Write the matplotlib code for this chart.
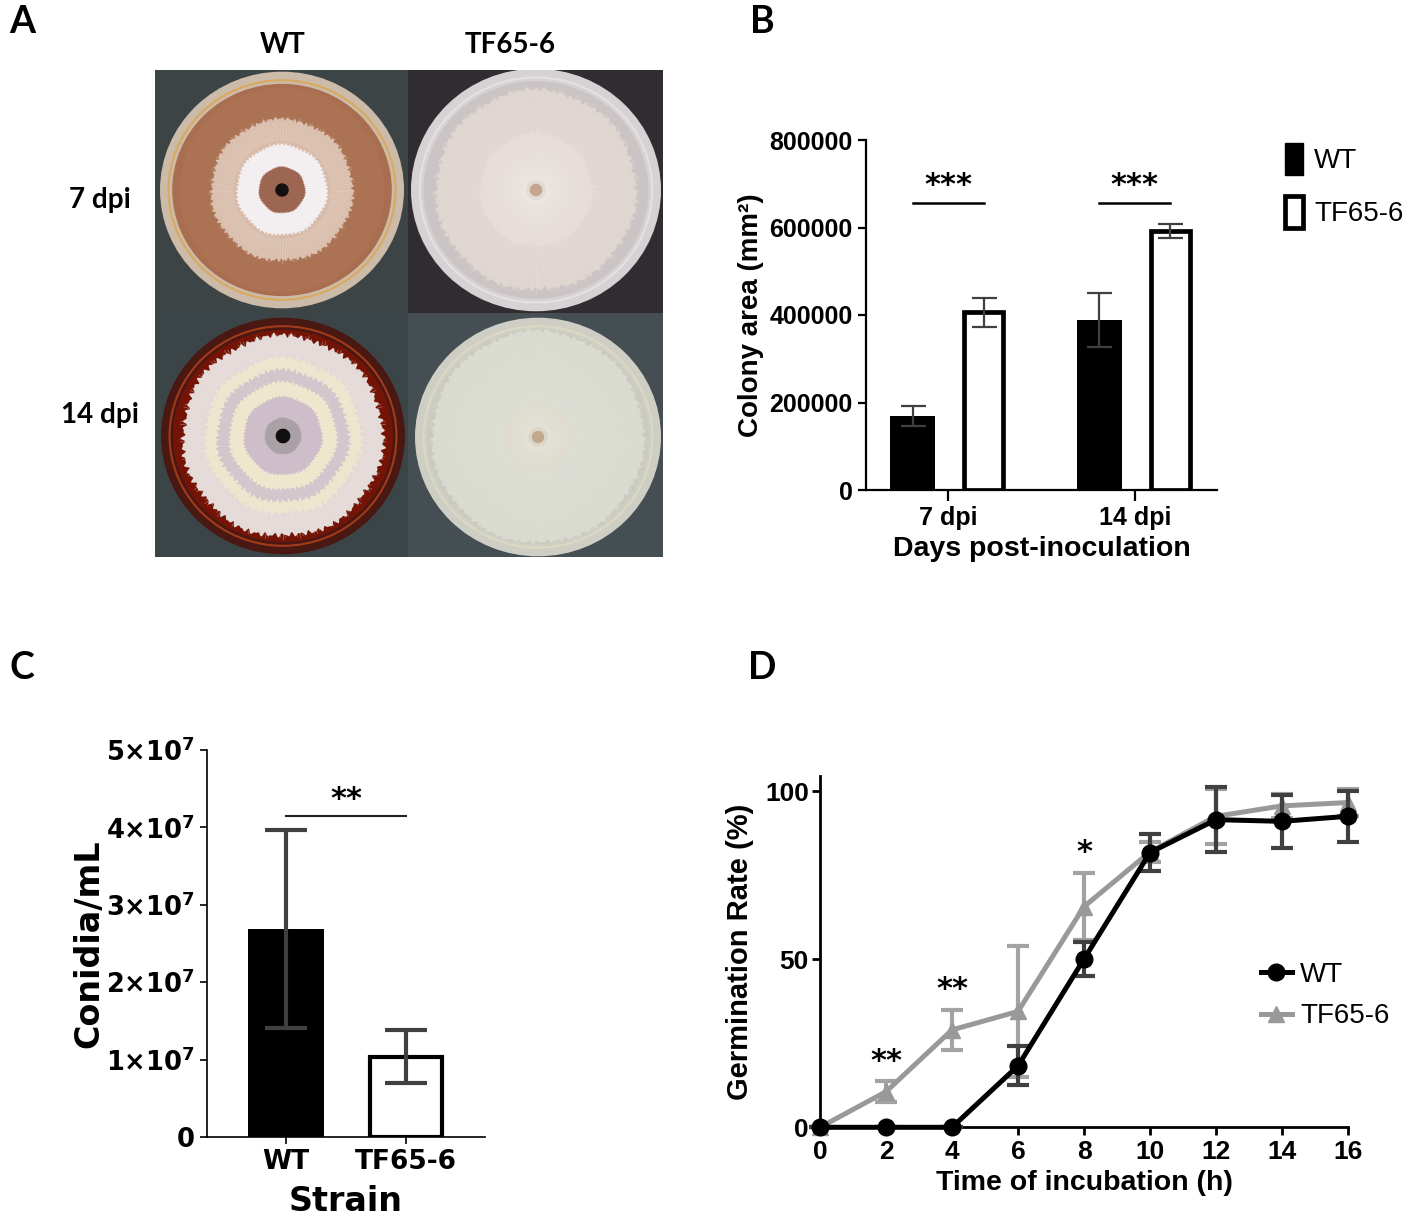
import numpy as np
import matplotlib
matplotlib.use('Agg')
import matplotlib.pyplot as plt
from matplotlib.patches import Ellipse, Rectangle, Polygon
from matplotlib.lines import Line2D
from matplotlib.collections import LineCollection

plt.rcParams['font.family'] = ['Liberation Sans', 'DejaVu Sans']
plt.rcParams['mathtext.fontset'] = 'dejavusans'

W, H = 1418, 1223

# --- panel A: plate photos (drawn as sketches) ---
plate_cols = ['WT', 'TF65-6']
plate_rows = ['7 dpi', '14 dpi']

# --- panel B: colony area ---
days = ['7 dpi', '14 dpi']
area_wt = [170000, 389000]
area_wt_err = [23000, 62000]
area_tf = [406000, 593000]
area_tf_err = [34000, 16000]
area_sig = ['***', '***']
area_ticks = [0, 200000, 400000, 600000, 800000]

# --- panel C: conidia ---
strains = ['WT', 'TF65-6']
conidia = [2.69e7, 1.04e7]
conidia_err = [1.28e7, 0.34e7]
conidia_sig = '**'
conidia_ticks = [0, 1e7, 2e7, 3e7, 4e7, 5e7]
conidia_ticklabels = ['0'] + [r'$\mathbf{%d{\times}10^{7}}$' % i for i in range(1, 6)]

# --- panel D: germination ---
hours = [0, 2, 4, 6, 8, 10, 12, 14, 16]
germ_wt = [0, 0, 0, 18.3, 50.1, 81.8, 91.6, 91.1, 92.6]
germ_wt_err = [0, 0, 0, 5.8, 5.0, 5.4, 9.7, 7.8, 7.6]
germ_tf = [0, 10.6, 29.0, 34.5, 65.7, 82.0, 92.6, 95.7, 96.7]
germ_tf_err = [0, 3.1, 5.9, 19.5, 10.0, 3.0, 8.2, 3.5, 4.0]
germ_sig_idx = [1, 2, 4]
germ_sig = ['**', '**', '*']

STAR_FONT = 'DejaVu Sans'


def fig_rect(x0, y0, x1, y1):
    # pixel box (top-left origin) -> figure fraction
    return [x0 / W, 1 - y1 / H, (x1 - x0) / W, (y1 - y0) / H]


def blob(ax, cx, cy, r, color, wob=0.012):
    t = np.linspace(0, 2 * np.pi, 900)
    rr = r * (1 + wob * np.sin(71 * t) + 0.7 * wob * np.sin(113 * t + 1.0)
              + 0.8 * wob * np.sin(7 * t + 0.4))
    ax.add_patch(Polygon(np.c_[cx + rr * np.cos(t), cy + rr * np.sin(t)],
                         closed=True, fc=color, ec='none'))


def hairs(ax, cx, cy, r0, r1, color, n=220, alpha=0.35):
    # fine radial streaks to suggest mycelium
    t = np.linspace(0, 2 * np.pi, n, endpoint=False)
    ends = r1 * (1 + 0.04 * np.sin(37 * t))
    segs = [[(cx + r0 * np.cos(a), cy + r0 * np.sin(a)),
             (cx + e * np.cos(a), cy + e * np.sin(a))] for a, e in zip(t, ends)]
    ax.add_collection(LineCollection(segs, colors=color, linewidths=0.6, alpha=alpha))


def draw_dish(ax, cx, cy, R, rim, edge_line, agar, rings):
    ax.add_patch(Ellipse((cx, cy), 2 * R, 2 * R * 0.97, fc=rim, ec='none'))
    ax.add_patch(Ellipse((cx, cy), 2 * R * 0.93, 2 * R * 0.9, fc='none', ec=edge_line, lw=1.5))
    ax.add_patch(Ellipse((cx, cy), 2 * R * 0.9, 2 * R * 0.87, fc=agar, ec='none'))
    for frac, color, wob in rings:
        blob(ax, cx, cy, R * frac, color, wob)


fig = plt.figure(figsize=(W / 100, H / 100), dpi=100)

# ---------------- A ----------------
axA = fig.add_axes(fig_rect(155, 70, 663, 557))
axA.set_xlim(0, 508)
axA.set_ylim(487, 0)
axA.axis('off')
axA.add_patch(Rectangle((0, 0), 253, 243, fc='#3c4446', ec='none'))
axA.add_patch(Rectangle((253, 0), 255, 243, fc='#312c32', ec='none'))
axA.add_patch(Rectangle((0, 243), 253, 244, fc='#3b4548', ec='none'))
axA.add_patch(Rectangle((253, 243), 255, 244, fc='#454e52', ec='none'))

draw_dish(axA, 127, 120, 122, '#cbbba8', '#d9a95e', '#a96d50',
          [(0.84, '#ab7254', 0.0), (0.58, '#d8bba9', 0.015), (0.37, '#f3eef0', 0.02),
           (0.19, '#9d6652', 0.02), (0.055, '#141010', 0.0)])
hairs(axA, 127, 120, 0.4 * 122, 0.58 * 122, '#efe2d8')
draw_dish(axA, 381, 120, 125, '#d6d1d2', '#e6e1e0', '#cbc4c4',
          [(0.8, '#ddd3cf', 0.012), (0.45, '#e4dad4', 0.02), (0.05, '#c4a590', 0.0)])
hairs(axA, 381, 120, 0.08 * 125, 0.8 * 125, '#f2ece8', n=320, alpha=0.3)
draw_dish(axA, 128, 366, 122, '#4a1812', '#a33a18', '#741406',
          [(0.82, '#e3d9d7', 0.015), (0.64, '#ece6cf', 0.02), (0.54, '#d2c7cc', 0.02),
           (0.44, '#eee7ce', 0.02), (0.32, '#cdbec9', 0.02), (0.15, '#a9a1a6', 0.015),
           (0.06, '#101010', 0.0)])
hairs(axA, 128, 366, 0.66 * 122, 0.82 * 122, '#f4eeec')
draw_dish(axA, 383, 367, 123, '#cfcec5', '#dcd8c2', '#c9cbbf',
          [(0.86, '#d8d9cf', 0.01), (0.28, '#dcd6c8', 0.03), (0.05, '#bfa88c', 0.0)])
hairs(axA, 383, 367, 0.08 * 123, 0.86 * 123, '#e8e9e0', n=320, alpha=0.3)

for lbl, x in zip(plate_cols, [283, 510]):
    fig.text(x / W, 1 - 45 / H, lbl, ha='center', va='center', fontsize=20,
             fontweight='bold', family=['Lato', 'DejaVu Sans'])
for lbl, y in zip(plate_rows, [200, 415]):
    fig.text(100 / W, 1 - y / H, lbl, ha='center', va='center', fontsize=20,
             fontweight='bold', family=['Lato', 'DejaVu Sans'])

# ---------------- B ----------------
axB = fig.add_axes(fig_rect(866, 140, 1217, 490))
x = np.arange(len(days))
off = 0.19
ekw = dict(ecolor='#404040', elinewidth=1.6, capsize=9, capthick=1.6, zorder=4)
axB.bar(x - off, area_wt, 0.24, color='black', yerr=area_wt_err, error_kw=ekw, zorder=3)
axB.bar(x + off, area_tf, 0.21, color='white', edgecolor='black', linewidth=3.4,
        yerr=area_tf_err, error_kw=ekw, zorder=3)
sig_y = 657000
for xi, s in zip(x, area_sig):
    axB.plot([xi - off, xi + off], [sig_y, sig_y], color='black', lw=1.8)
    axB.text(xi, sig_y + 5000, s, ha='center', va='bottom', fontsize=22,
             fontweight='bold', family=STAR_FONT)
axB.set_xlim(-0.44, 1.44)
axB.set_ylim(0, 800000)
axB.set_yticks(area_ticks)
axB.set_yticklabels([str(v) for v in area_ticks])
axB.set_xticks(x)
axB.set_xticklabels(days)
axB.set_ylabel('Colony area (mm²)', fontsize=20, fontweight='bold', labelpad=4)
axB.set_xlabel('Days post-inoculation', fontsize=20.5, fontweight='bold', labelpad=4)
for sp in ['top', 'right']:
    axB.spines[sp].set_visible(False)
for sp in ['left', 'bottom']:
    axB.spines[sp].set_linewidth(1.6)
axB.tick_params(width=1.6, length=6, labelsize=18)
axB.tick_params(axis='x', length=8)
for t in axB.get_xticklabels() + axB.get_yticklabels():
    t.set_fontweight('bold')
handlesB = [Rectangle((0, 0), 1, 1, fc='black', ec='black'),
            Rectangle((0, 0), 1, 1, fc='white', ec='black', lw=3.4)]
fig.legend(handlesB, ['WT', 'TF65-6'], loc='upper left', bbox_to_anchor=(1260 / W, 1 - 118 / H),
           frameon=False, fontsize=20, handlelength=0.65, handleheight=1.4,
           labelspacing=0.75, handletextpad=0.4)

# ---------------- C ----------------
axC = fig.add_axes(fig_rect(207, 750, 485, 1137))
xc = np.arange(len(strains))
ekwC = dict(ecolor='#404040', elinewidth=3, capsize=15, capthick=3, zorder=4)
axC.bar(xc[0], conidia[0], 0.63, color='black', yerr=conidia_err[0], error_kw=ekwC, zorder=3)
axC.bar(xc[1], conidia[1], 0.6, color='white', edgecolor='black', linewidth=3,
        yerr=conidia_err[1], error_kw=ekwC, zorder=3)
axC.plot([xc[0], xc[1]], [4.15e7, 4.15e7], color='#222222', lw=1.5)
axC.text(0.5, 4.17e7, conidia_sig, ha='center', va='bottom', fontsize=22,
         fontweight='bold', family=STAR_FONT)
axC.set_xlim(-0.66, 1.66)
axC.set_ylim(0, 5e7)
axC.set_yticks(conidia_ticks)
axC.set_yticklabels(conidia_ticklabels)
axC.set_xticks(xc)
axC.set_xticklabels(strains)
for t in axC.get_yticklabels():
    t.set_family('DejaVu Sans')
    t.set_fontweight('bold')
    t.set_fontsize(18.5)
for t in axC.get_xticklabels():
    t.set_family('DejaVu Sans')
    t.set_fontweight('bold')
    t.set_fontsize(19)
axC.set_ylabel('Conidia/mL', fontsize=24, fontweight='bold', family='DejaVu Sans', labelpad=1)
axC.set_xlabel('Strain', fontsize=24, fontweight='bold', family='DejaVu Sans', labelpad=7)
for sp in ['top', 'right']:
    axC.spines[sp].set_visible(False)
for sp in ['left', 'bottom']:
    axC.spines[sp].set_linewidth(1.2)
axC.tick_params(width=1.2, length=5)

# ---------------- D ----------------
axD = fig.add_axes(fig_rect(820, 776, 1348, 1127.3))
tf = axD.errorbar(hours, germ_tf, yerr=germ_tf_err, color='#999999', lw=3.6, marker='^',
                  ms=11, ecolor='#a3a3a3', elinewidth=3, capsize=8, capthick=3, zorder=3)
wt = axD.errorbar(hours, germ_wt, yerr=germ_wt_err, color='black', lw=3.6, marker='o',
                  ms=12, ecolor='#404040', elinewidth=3, capsize=8, capthick=3, zorder=4)
for cont in (tf, wt):
    for art in cont.get_children():
        art.set_clip_on(False)
for i, s in zip(germ_sig_idx, germ_sig):
    axD.text(hours[i], germ_tf[i] + germ_tf_err[i] + 6, s, ha='center', va='center',
             fontsize=22, fontweight='bold', family=STAR_FONT)
axD.set_xlim(0, 16)
axD.set_ylim(0, 104.6)
axD.set_xticks(hours)
axD.set_yticks([0, 50, 100])
axD.set_xlabel('Time of incubation (h)', fontsize=20.5, fontweight='bold', labelpad=4)
axD.set_ylabel('Germination Rate (%)', fontsize=21, fontweight='bold', labelpad=8)
for sp in ['top', 'right']:
    axD.spines[sp].set_visible(False)
for sp in ['left', 'bottom']:
    axD.spines[sp].set_linewidth(2)
axD.tick_params(width=2, length=6, labelsize=19)
axD.tick_params(axis='y', pad=2)
for t in axD.get_xticklabels() + axD.get_yticklabels():
    t.set_fontweight('bold')
handlesD = [Line2D([], [], color='black', lw=3.6, marker='o', ms=12),
            Line2D([], [], color='#999999', lw=3.6, marker='^', ms=11)]
fig.legend(handlesD, ['WT', 'TF65-6'], loc='upper left', bbox_to_anchor=(1236 / W, 1 - 937 / H),
           frameon=False, fontsize=20, handlelength=1.1, handletextpad=0.3, labelspacing=0.55)

# panel letters
for lbl, (px, py) in zip('ABCD', [(22, 22), (762, 22), (22, 668), (762, 668)]):
    fig.text(px / W, 1 - py / H, lbl, ha='center', va='center', fontsize=27,
             fontweight='bold', family=['Lato', 'DejaVu Sans'])

fig.savefig('out.png', dpi=100)
